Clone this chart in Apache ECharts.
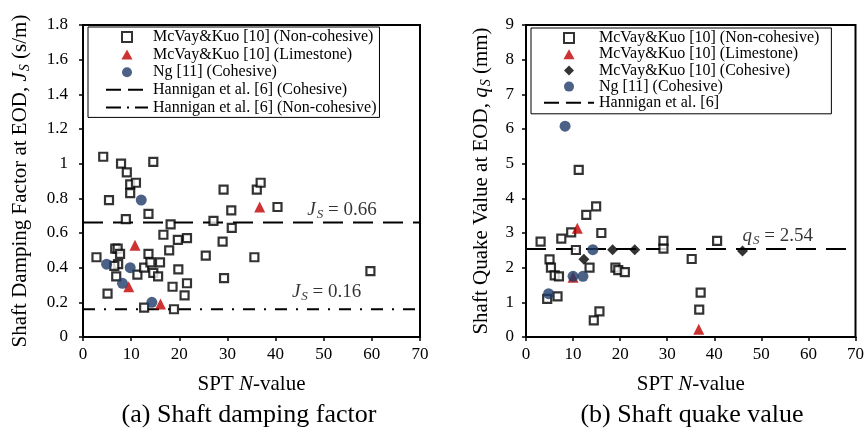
<!DOCTYPE html>
<html>
<head>
<meta charset="utf-8">
<script src="https://cdn.jsdelivr.net/npm/echarts@6/dist/echarts.min.js"></script>
<style>
html, body { margin: 0; padding: 0; background: #fff; }
#chart { width: 867px; height: 433px; }
</style>
</head>
<body>
<div id="chart"></div>
<script>
// (a) shaft damping factor Js (s/m) against SPT N
const jsNonCohesive = [
    [4.2, 1.04], [14.6, 1.01], [7.9, 1.00], [9.1, 0.95], [9.8, 0.88], [11.0, 0.89], [9.8, 0.83],
    [5.4, 0.79], [13.6, 0.71], [8.9, 0.68], [2.8, 0.46], [6.7, 0.51], [7.2, 0.51], [7.7, 0.48],
    [7.3, 0.42], [6.5, 0.41], [6.9, 0.35], [5.1, 0.25], [11.3, 0.36], [12.7, 0.40], [13.6, 0.48],
    [14.0, 0.43], [14.6, 0.37], [15.6, 0.35], [16.0, 0.43], [12.7, 0.17], [18.2, 0.65], [16.7, 0.59],
    [19.7, 0.56], [21.6, 0.57], [17.9, 0.50], [19.8, 0.39], [18.6, 0.29], [21.6, 0.31], [21.1, 0.24],
    [18.9, 0.16], [25.5, 0.47], [27.1, 0.67], [29.0, 0.55], [29.2, 0.85], [29.3, 0.34], [30.8, 0.73],
    [30.9, 0.63], [35.6, 0.46], [36.1, 0.85], [36.9, 0.89], [40.4, 0.75], [59.7, 0.38]
];
const jsLimestone = [[10.8, 0.53], [9.5, 0.29], [16.1, 0.19], [36.7, 0.75]];
const jsNg = [[12.1, 0.79], [4.9, 0.42], [9.8, 0.40], [8.2, 0.31], [14.3, 0.20]];
const jsHanniganCohesive = 0.66;
const jsHanniganNonCohesive = 0.16;

// (b) shaft quake value qs (mm) against SPT N
const qsNonCohesive = [
    [3.1, 2.75], [7.5, 2.84], [9.6, 3.02], [12.8, 3.52], [14.9, 3.77], [16.0, 3.00], [11.2, 4.82],
    [10.6, 2.51], [5.0, 2.24], [5.3, 2.00], [6.1, 1.78], [7.0, 1.75], [4.5, 1.10], [6.7, 1.17],
    [13.5, 2.00], [14.4, 0.48], [15.6, 0.74], [19.0, 2.00], [19.6, 1.93], [21.0, 1.87], [29.2, 2.77],
    [29.2, 2.55], [35.2, 2.25], [37.1, 1.28], [36.8, 0.79], [40.6, 2.77]
];
const qsLimestone = [[10.9, 3.14], [10.0, 1.72], [36.7, 0.22]];
const qsCohesive = [[12.3, 2.24], [18.4, 2.52], [23.1, 2.52], [46.0, 2.48]];
const qsNg = [[8.3, 6.08], [4.8, 1.25], [10.0, 1.75], [12.1, 1.75], [14.2, 2.52]];
const qsHannigan = 2.54;

const nRange = [0, 70];
const FONT = '"Liberation Serif", "Times New Roman", serif';

const NON = "McVay&Kuo [10] (Non-cohesive)";
const LIME = "McVay&Kuo [10] (Limestone)";
const COH = "McVay&Kuo [10] (Cohesive)";
const NG = "Ng [11] (Cohesive)";
const HAN_C = "Hannigan et al. [6] (Cohesive)";
const HAN_N = "Hannigan et al. [6] (Non-cohesive)";
const HAN = "Hannigan et al. [6]";

const RED = "#c00000";
const NAVY = "#1f3a68";
const DASH = [20, 10];
const DASHDOT = [12, 9, 2, 9];

// legend icons, so the markers keep their shape in the legend box
const legendIcons = {};
legendIcons[NON] = "path://M0 0H10V10H0Z";
legendIcons[LIME] = "path://M5 0L10 9H0Z";
legendIcons[COH] = "path://M5 0L10 5L5 10L0 5Z";
legendIcons[NG] = "circle";

const richName = {
    i: { fontFamily: FONT, fontSize: 21, fontStyle: "italic", color: "#000" },
    s: { fontFamily: FONT, fontSize: 14, fontStyle: "italic", color: "#000", padding: [10, 0, 0, 1] }
};

function xAxisFor(idx) {
    return {
        type: "value", gridIndex: idx, min: nRange[0], max: nRange[1], interval: 10,
        name: "SPT {i|N}-value", nameLocation: "middle", nameGap: 37,
        nameTextStyle: { fontFamily: FONT, fontSize: 21, color: "#000", rich: {
            i: { fontFamily: FONT, fontSize: 21, fontStyle: "italic", color: "#000" }
        } },
        axisLine: { lineStyle: { color: "#000", width: 2 } },
        axisTick: { length: 4, lineStyle: { color: "#000", width: 1.5 } },
        axisLabel: { fontFamily: FONT, fontSize: 17, color: "#000", margin: 9 },
        splitLine: { show: false }
    };
}

function yAxisFor(idx, max, interval, name, gap, labelMargin) {
    return {
        type: "value", gridIndex: idx, min: 0, max: max, interval: interval,
        name: name, nameLocation: "middle", nameGap: gap,
        nameTextStyle: { fontFamily: FONT, fontSize: 21, color: "#000", rich: richName },
        axisLine: { lineStyle: { color: "#000", width: 2 } },
        axisTick: { length: 4, lineStyle: { color: "#000", width: 1.5 } },
        axisLabel: { fontFamily: FONT, fontSize: 17, color: "#000", margin: labelMargin },
        splitLine: { show: false }
    };
}

function squares(name, data, idx) {
    return {
        type: "scatter", name: name, data: data, xAxisIndex: idx, yAxisIndex: idx,
        symbol: "rect", symbolSize: 8, z: 3,
        itemStyle: { color: "#fff", borderColor: "#000", borderWidth: 2.2 }
    };
}

function filled(name, data, idx, symbol, size, color) {
    return {
        type: "scatter", name: name, data: data, xAxisIndex: idx, yAxisIndex: idx,
        symbol: symbol, symbolSize: size, z: 3,
        itemStyle: { color: color }
    };
}

function level(name, value, idx, dash) {
    return {
        type: "line", name: name, data: [[nRange[0], value], [nRange[1], value]],
        xAxisIndex: idx, yAxisIndex: idx, symbol: "none", z: 2,
        itemStyle: { color: "rgba(0,0,0,0)" },
        lineStyle: { color: "#000", width: 2, type: dash }
    };
}

function levelLabel(symbolText, value, atN, idx, distance) {
    return {
        type: "scatter", data: [[atN, value]], xAxisIndex: idx, yAxisIndex: idx,
        symbolSize: 0, silent: true, z: 4,
        label: {
            show: true, position: "top", distance: distance,
            formatter: "{i|" + symbolText + "}{s|S}{t| = " + value.toFixed(2) + "}",
            rich: {
                i: { fontFamily: FONT, fontSize: 19, fontStyle: "italic", color: "#000" },
                s: { fontFamily: FONT, fontSize: 13, fontStyle: "italic", color: "#000", padding: [9, 0, 0, 1] },
                t: { fontFamily: FONT, fontSize: 19, color: "#000" }
            }
        }
    };
}

function legendFor(left, top, width, gap, padding, names) {
    return {
        orient: "vertical", left: left, top: top, itemWidth: width, itemHeight: 10, itemGap: gap,
        padding: padding, borderColor: "#000", borderWidth: 1, backgroundColor: "#fff",
        selectedMode: false,
        textStyle: { fontFamily: FONT, fontSize: 16, color: "#000", lineHeight: 16 },
        data: names.map((n) => {
            if (n === HAN_C || n === HAN) {
                return { name: n, lineStyle: { type: [15, 7] } };
            }
            if (n === HAN_N) {
                return { name: n, lineStyle: { type: [15, 6, 2, 6] } };
            }
            return { name: n, icon: legendIcons[n] };
        })
    };
}

const chart = echarts.init(document.getElementById("chart"));

chart.setOption({
    animation: false,
    backgroundColor: "#fff",
    grid: [
        { left: 83, right: 447, top: 25, bottom: 96, show: true, borderColor: "#000", borderWidth: 2 },
        { left: 526, right: 5, top: 25, bottom: 96, show: true, borderColor: "#000", borderWidth: 2 }
    ],
    xAxis: [xAxisFor(0), xAxisFor(1)],
    yAxis: [
        yAxisFor(0, 1.8, 0.2, "Shaft Damping Factor at EOD, {i|J}{s|S} (s/m)", 51, 15),
        yAxisFor(1, 9, 1, "Shaft Quake Value at EOD, {i|q}{s|S} (mm)", 33, 12)
    ],
    legend: [
        legendFor(88, 27, 42, 1.6, [2, 3, 2, 17], [NON, LIME, NG, HAN_C, HAN_N]),
        legendFor(531, 28, 50, 0.2, [2, 12, 3, 12], [NON, LIME, COH, NG, HAN])
    ],
    graphic: [
        { type: "text", x: 249, y: 402, style: { text: "(a) Shaft damping factor", font: "26px " + FONT, fill: "#000", align: "center", verticalAlign: "top" } },
        { type: "text", x: 692, y: 402, style: { text: "(b) Shaft quake value", font: "26px " + FONT, fill: "#000", align: "center", verticalAlign: "top" } }
    ],
    series: [
        level(HAN_C, jsHanniganCohesive, 0, DASH),
        level(HAN_N, jsHanniganNonCohesive, 0, DASHDOT),
        squares(NON, jsNonCohesive, 0),
        filled(LIME, jsLimestone, 0, "triangle", 11, RED),
        filled(NG, jsNg, 0, "circle", 11, NAVY),
        levelLabel("J", jsHanniganCohesive, 53.8, 0, 2),
        levelLabel("J", jsHanniganNonCohesive, 50.6, 0, 6),

        level(HAN, qsHannigan, 1, DASH),
        squares(NON, qsNonCohesive, 1),
        filled(LIME, qsLimestone, 1, "triangle", 11, RED),
        filled(COH, qsCohesive, 1, "diamond", 11, "#000"),
        filled(NG, qsNg, 1, "circle", 11, NAVY),
        levelLabel("q", qsHannigan, 53.5, 1, 2)
    ]
});
</script>
</body>
</html>
